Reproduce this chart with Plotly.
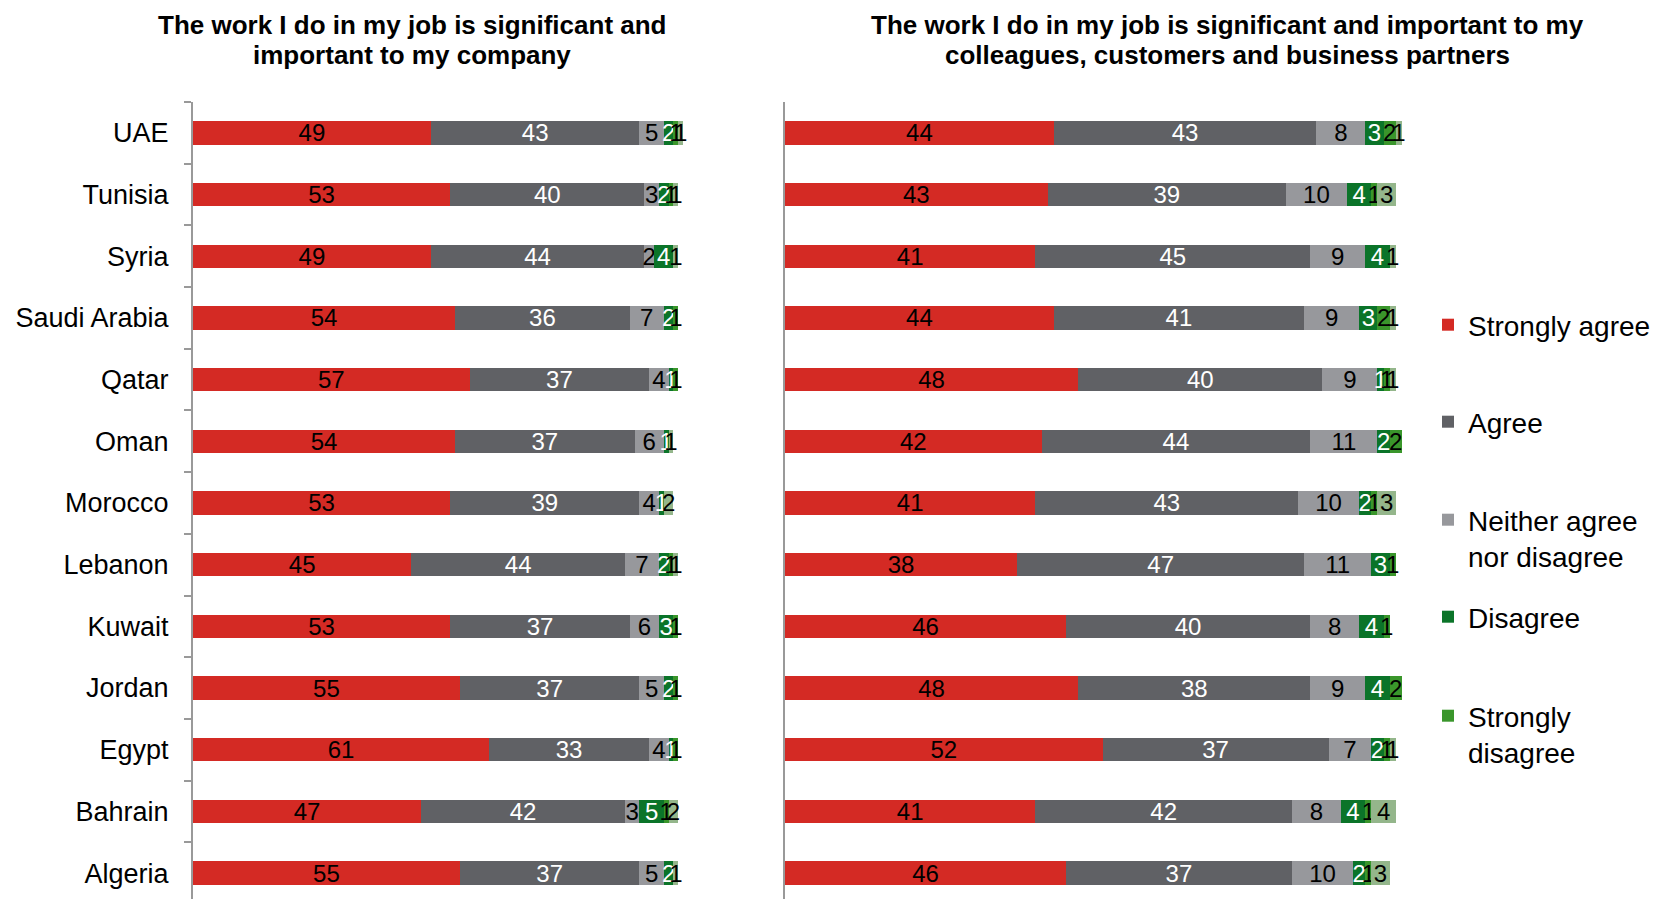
import plotly.graph_objects as go

countries = ["UAE", "Tunisia", "Syria", "Saudi Arabia", "Qatar", "Oman", "Morocco",
             "Lebanon", "Kuwait", "Jordan", "Egypt", "Bahrain", "Algeria"]

series_names = ["Strongly agree", "Agree", "Neither agree<br>nor disagree",
                "Disagree", "Strongly<br>disagree", "Don't know"]

# Panel 1: significant and important to my company
company_strongly_agree = [49, 53, 49, 54, 57, 54, 53, 45, 53, 55, 61, 47, 55]
company_agree = [43, 40, 44, 36, 37, 37, 39, 44, 37, 37, 33, 42, 37]
company_neither = [5, 3, 2, 7, 4, 6, 4, 7, 6, 5, 4, 3, 5]
company_disagree = [2, 2, 4, 2, 1, 1, 1, 2, 3, 2, 1, 5, 2]
company_strongly_disagree = [1, 1, 0, 1, 1, 0, 0, 1, 1, 1, 1, 1, 0]
company_dont_know = [1, 1, 1, 0, 0, 1, 2, 1, 0, 0, 0, 2, 1]

# Panel 2: significant and important to colleagues, customers and partners
others_strongly_agree = [44, 43, 41, 44, 48, 42, 41, 38, 46, 48, 52, 41, 46]
others_agree = [43, 39, 45, 41, 40, 44, 43, 47, 40, 38, 37, 42, 37]
others_neither = [8, 10, 9, 9, 9, 11, 10, 11, 8, 9, 7, 8, 10]
others_disagree = [3, 4, 4, 3, 1, 2, 2, 3, 4, 4, 2, 4, 2]
others_strongly_disagree = [2, 1, 0, 2, 1, 2, 1, 1, 1, 2, 1, 1, 1]
others_dont_know = [1, 3, 1, 1, 1, 0, 3, 0, 0, 0, 1, 4, 3]

title_left = ["The work I do in my job is significant and",
              "important to my company"]
title_right = ["The work I do in my job is significant and important to my",
               "colleagues, customers and business partners"]

colors = ["#d42a24", "#606165", "#97989c", "#0b7429", "#3a962b", "#94b68b"]
label_colors = ["black", "white", "black", "white", "black", "black"]

company = [company_strongly_agree, company_agree, company_neither,
           company_disagree, company_strongly_disagree, company_dont_know]
others = [others_strongly_agree, others_agree, others_neither,
          others_disagree, others_strongly_disagree, others_dont_know]

FONT = "Liberation Sans, Arial, sans-serif"
W, H = 1667, 899

# legend entries: one legend box per series, top edge in pixels
legend_ids = ["legend", "legend2", "legend3", "legend4", "legend5"]
legend_tops = [300, 397, 495, 592, 691]

fig = go.Figure()

# bottom-to-top order so UAE sits on top
cats = countries[::-1]

for panel, (data, xa, ya) in enumerate([(company, "x", "y"), (others, "x2", "y2")]):
    for i, vals in enumerate(data):
        v = vals[::-1]
        fig.add_trace(go.Bar(
            y=cats, x=v, orientation="h",
            name=series_names[i],
            marker=dict(color=colors[i], line=dict(width=0)),
            text=[str(a) for a in v],
            textposition="inside",
            insidetextanchor="middle",
            textangle=0,
            textfont=dict(family=FONT, size=24, color=label_colors[i]),
            width=0.38,
            xaxis=xa, yaxis=ya,
            showlegend=(panel == 0 and i < 5),
            legend=legend_ids[i] if i < 5 else "legend",
            hoverinfo="skip",
        ))

top = 1 - 102 / H
yrange = [-0.42, 12.5]

legend_layout = {}
for lid, t in zip(legend_ids, legend_tops):
    legend_layout[lid] = dict(
        x=1428 / W, y=1 - t / H, xanchor="left", yanchor="top",
        font=dict(family=FONT, size=28, color="black"),
        valign="top", itemwidth=30, bgcolor="rgba(0,0,0,0)",
    )

# panel titles, one annotation per line
annotations = []
for lines, cx in [(title_left, 412), (title_right, 1227)]:
    for line, cy in zip(lines, [24.5, 55]):
        annotations.append(dict(
            text=f"<b>{line}</b>", x=cx / W, y=1 - cy / H,
            xref="paper", yref="paper", xanchor="center", yanchor="middle",
            showarrow=False, font=dict(family=FONT, size=26, color="black")))

fig.update_layout(
    width=W, height=H,
    barmode="stack",
    paper_bgcolor="white",
    plot_bgcolor="white",
    margin=dict(l=0, r=0, t=0, b=0),
    uniformtext=dict(minsize=24, mode="show"),
    font=dict(family=FONT, color="black"),
    xaxis=dict(domain=[193 / W, 688 / W], range=[0, 102], visible=False),
    xaxis2=dict(domain=[785 / W, 1408 / W], range=[0, 102], visible=False),
    yaxis=dict(domain=[0, top], range=yrange, type="category",
               showline=True, linecolor="#999999", linewidth=2,
               ticks="outside", tickson="boundaries", ticklen=7,
               tickcolor="#999999", tickwidth=2,
               ticklabelstandoff=17,
               tickfont=dict(family=FONT, size=27, color="black"),
               showgrid=False, zeroline=False),
    yaxis2=dict(domain=[0, top], range=yrange, type="category",
                anchor="x2",
                showline=True, linecolor="#999999", linewidth=2,
                showticklabels=False, ticks="",
                showgrid=False, zeroline=False),
    annotations=annotations,
    **legend_layout,
)

fig.write_html("out.html")
